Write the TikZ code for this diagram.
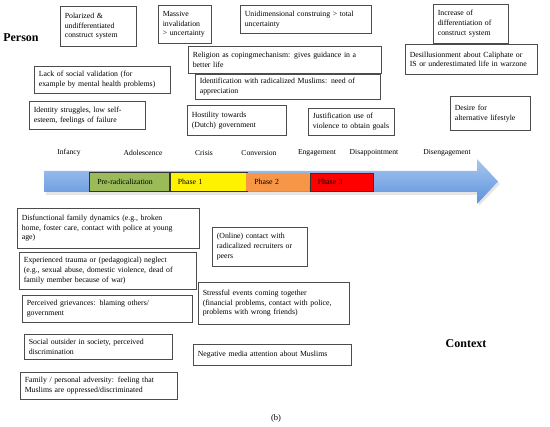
\documentclass[tikz,border=0pt]{standalone}
\usepackage{fontspec}
\setmainfont{Liberation Serif}
\usetikzlibrary{positioning, shapes}

\definecolor{arrowTop}{RGB}{168,199,240}
\definecolor{arrowBottom}{RGB}{92,146,220}
\definecolor{preGreen}{RGB}{155,187,89}
\definecolor{phaseOrange}{RGB}{247,150,70}

\hyphenpenalty=10000
\exhyphenpenalty=10000

\begin{document}
\begin{tikzpicture}[
    x = 1pt, y = -1pt,
    factBox/.style = {draw = black!70, line width = 0.6pt, rectangle, anchor = north west, align = left, inner xsep = 4.5pt, inner ysep = 2pt, font = \fontsize{7.8}{9.7}\selectfont},
    phaseBox/.style = {draw = black!80, line width = 0.6pt, rectangle, anchor = north west, align = left, inner xsep = 8pt, inner ysep = 0pt, font = \fontsize{7.8}{9}\selectfont},
    stageLabel/.style = {font = \fontsize{7.6}{9}\selectfont},
    sideLabel/.style = {font = \bfseries\fontsize{12}{14}\selectfont}
    ]
      \useasboundingbox (0, 0) rectangle (550, 427);

      %% Person side
      \node[sideLabel] (person) at (21, 38) {Person};

      \node[factBox, text width = 67pt, minimum height = 40pt] (polarized) at (60, 6) {Polarized \&\\undifferentiated\\construct system};
      \node[factBox, text width = 44pt, minimum height = 38pt] (massive) at (158, 5) {Massive\\invalidation\\> uncertainty};
      \node[factBox, text width = 122pt, minimum height = 28pt] (unidim) at (240, 5) {Unidimensional construing > total\\uncertainty};
      \node[factBox, text width = 66pt, minimum height = 39pt] (increase) at (433, 4) {Increase of\\differentiation of\\construct system};
      \node[factBox, text width = 184pt, minimum height = 27pt] (religion) at (188, 46) {Religion as copingmechanism: gives guidance in a\\better life};
      \node[factBox, text width = 123pt, minimum height = 30pt] (desillusion) at (405, 44) {Desillusionment about Caliphate or\\IS or underestimated life in warzone};
      \node[factBox, text width = 127pt, minimum height = 27pt] (lackValidation) at (34, 66) {Lack of social validation (for\\example by mental health problems)};
      \node[factBox, text width = 176pt, minimum height = 25pt] (identification) at (195, 74) {Identification with radicalized Muslims: need of\\appreciation};
      \node[factBox, text width = 107pt, minimum height = 28pt] (identity) at (29, 101) {Identity struggles, low self-\\esteem, feelings of failure};
      \node[factBox, text width = 90pt, minimum height = 30pt] (hostility) at (187, 105) {Hostility towards\\(Dutch) government};
      \node[factBox, text width = 77pt, minimum height = 27pt] (justification) at (308, 108) {Justification use of\\violence to obtain goals};
      \node[factBox, text width = 71pt, minimum height = 34pt] (desire) at (450, 96) {Desire for\\alternative lifestyle};

      %% Stages
      \node[stageLabel] (infancy) at (69, 153) {Infancy};
      \node[stageLabel] (adolescence) at (143, 153) {Adolescence};
      \node[stageLabel] (crisis) at (204, 153) {Crisis};
      \node[stageLabel] (conversion) at (259, 153) {Conversion};
      \node[stageLabel] (engagement) at (317, 153) {Engagement};
      \node[stageLabel] (disappointment) at (374, 153) {Disappointment};
      \node[stageLabel] (disengagement) at (447, 153) {Disengagement};

      %% Time arrow
      \fill[black!10] (46, 174) -- (479, 174) -- (479, 162) -- (500, 184) -- (479, 206) -- (479, 195) -- (46, 195) -- cycle;
      \shade[top color = arrowTop, bottom color = arrowBottom] (44, 171) -- (477, 171) -- (477, 159) -- (498, 181.5) -- (477, 204) -- (477, 192) -- (44, 192) -- cycle;

      \node[phaseBox, fill = preGreen, text width = 64pt, minimum height = 19pt] (preRad) at (89, 172) {Pre-radicalization};
      \node[phaseBox, fill = yellow, text width = 61pt, minimum height = 19pt] (phaseOne) at (preRad.north east) {Phase 1};
      \node[phaseBox, fill = phaseOrange, text width = 47pt, minimum height = 18pt, draw = none] (phaseTwo) at (246, 173) {Phase 2};
      \node[phaseBox, fill = red, text width = 47pt, minimum height = 18pt] (phaseThree) at (phaseTwo.north east) {Phase 3};

      %% Context side
      \node[factBox, text width = 173pt, minimum height = 40pt] (familyDynamics) at (17, 208) {Disfunctional family dynamics (e.g., broken\\home, foster care, contact with police at young\\age)};
      \node[factBox, text width = 168pt, minimum height = 37pt] (trauma) at (19, 252) {Experienced trauma or (pedagogical) neglect\\(e.g., sexual abuse, domestic violence, dead of\\family member because of war)};
      \node[factBox, text width = 161pt, minimum height = 27pt] (grievances) at (22, 295) {Perceived grievances: blaming others/\\government};
      \node[factBox, text width = 139pt, minimum height = 25pt] (outsider) at (24, 334) {Social outsider in society, perceived\\discrimination};
      \node[factBox, text width = 148pt, minimum height = 27pt] (adversity) at (20, 372) {Family / personal adversity: feeling that\\Muslims are oppressed/discriminated};
      \node[factBox, text width = 86pt, minimum height = 39pt] (onlineContact) at (212, 227) {(Online) contact with\\radicalized recruiters or\\peers};
      \node[factBox, text width = 142pt, minimum height = 42pt] (stressful) at (198, 282) {Stressful events coming together\\(financial problems, contact with police,\\problems with wrong friends)};
      \node[factBox, text width = 149pt, minimum height = 21pt] (media) at (193, 344) {Negative media attention about Muslims};

      \node[sideLabel] (context) at (466, 344) {Context};
      \node[stageLabel, font = \fontsize{8.5}{10}\selectfont] (caption) at (276, 418) {(b)};
    \end{tikzpicture}
\end{document}
